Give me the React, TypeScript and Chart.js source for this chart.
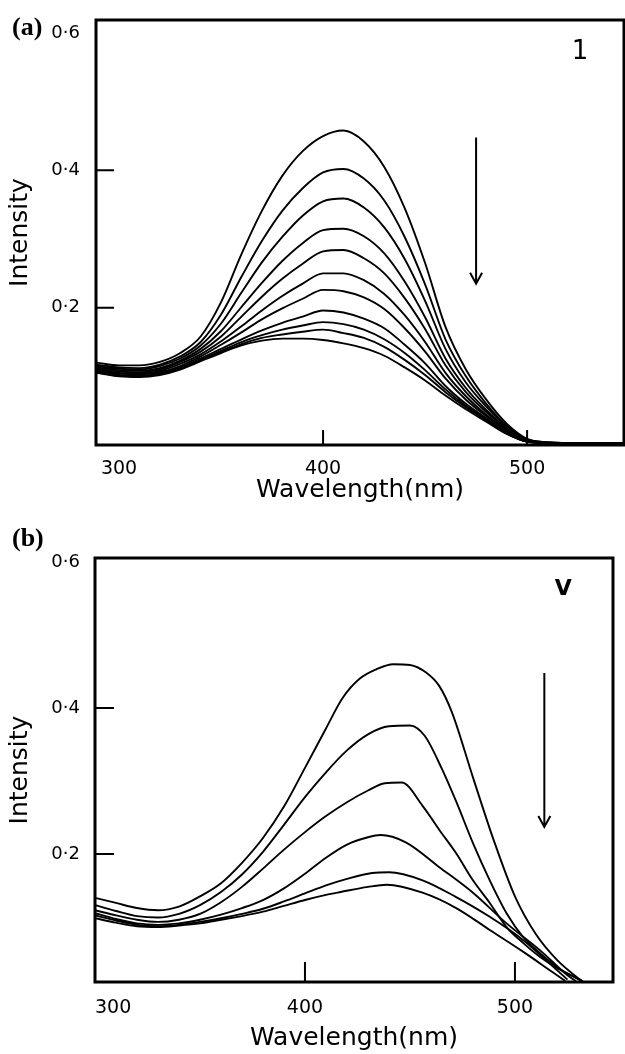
import React, { useEffect, useRef } from 'react';
import { Chart, registerables } from 'chart.js';

Chart.register(...registerables);

const FONT = '"DejaVu Sans", sans-serif';

// ---------- shared axis text ----------
const X_TITLE = 'Wavelength(nm)';
const Y_TITLE = 'Intensity';
const X_TICKS = [300, 400, 500];
const Y_TICKS = [0.2, 0.4, 0.6];

// ---------- panel (a): compound 1 ----------
const WL_A = [289, 300, 310, 320, 330, 340, 350, 360, 370, 380, 390, 400, 410, 420, 430, 440, 450, 460, 470, 480, 490, 500, 510, 520, 530, 540, 548];
const A1 = [0.120, 0.116, 0.116, 0.121, 0.134, 0.158, 0.208, 0.278, 0.341, 0.392, 0.428, 0.450, 0.458, 0.442, 0.405, 0.345, 0.265, 0.172, 0.110, 0.066, 0.031, 0.009, 0.004, 0.003, 0.003, 0.003, 0.003];
const A2 = [0.117, 0.113, 0.112, 0.117, 0.129, 0.150, 0.190, 0.245, 0.297, 0.341, 0.374, 0.397, 0.402, 0.388, 0.356, 0.303, 0.234, 0.154, 0.100, 0.060, 0.028, 0.008, 0.004, 0.003, 0.003, 0.003, 0.003];
const A3 = [0.115, 0.111, 0.110, 0.115, 0.126, 0.145, 0.177, 0.222, 0.266, 0.303, 0.334, 0.355, 0.359, 0.346, 0.317, 0.271, 0.210, 0.140, 0.091, 0.056, 0.026, 0.008, 0.003, 0.003, 0.002, 0.002, 0.002];
const A4 = [0.113, 0.109, 0.108, 0.112, 0.123, 0.140, 0.166, 0.201, 0.236, 0.268, 0.294, 0.313, 0.315, 0.304, 0.279, 0.238, 0.186, 0.126, 0.083, 0.051, 0.024, 0.007, 0.003, 0.002, 0.002, 0.002, 0.002];
const A5 = [0.112, 0.107, 0.106, 0.110, 0.121, 0.136, 0.158, 0.187, 0.216, 0.242, 0.264, 0.282, 0.284, 0.272, 0.250, 0.214, 0.169, 0.116, 0.077, 0.048, 0.023, 0.007, 0.003, 0.002, 0.002, 0.002, 0.002];
const A6 = [0.110, 0.105, 0.104, 0.108, 0.118, 0.132, 0.151, 0.173, 0.196, 0.217, 0.235, 0.250, 0.250, 0.240, 0.220, 0.189, 0.150, 0.105, 0.071, 0.044, 0.021, 0.006, 0.003, 0.002, 0.002, 0.002, 0.002];
const A7 = [0.109, 0.104, 0.103, 0.106, 0.115, 0.129, 0.146, 0.164, 0.183, 0.199, 0.213, 0.226, 0.224, 0.215, 0.198, 0.170, 0.136, 0.097, 0.066, 0.042, 0.020, 0.005, 0.003, 0.002, 0.002, 0.002, 0.002];
const A8 = [0.107, 0.102, 0.101, 0.104, 0.113, 0.126, 0.140, 0.154, 0.167, 0.178, 0.187, 0.196, 0.193, 0.184, 0.170, 0.146, 0.119, 0.086, 0.060, 0.039, 0.018, 0.005, 0.003, 0.002, 0.002, 0.002, 0.002];
const A9 = [0.106, 0.101, 0.100, 0.104, 0.112, 0.124, 0.137, 0.150, 0.160, 0.168, 0.174, 0.179, 0.176, 0.168, 0.154, 0.134, 0.109, 0.081, 0.057, 0.037, 0.017, 0.005, 0.003, 0.002, 0.002, 0.002, 0.002];
const A10 = [0.106, 0.101, 0.100, 0.103, 0.111, 0.123, 0.135, 0.147, 0.156, 0.161, 0.165, 0.168, 0.163, 0.156, 0.143, 0.124, 0.102, 0.077, 0.055, 0.036, 0.017, 0.005, 0.003, 0.002, 0.002, 0.002, 0.002];
const A11 = [0.105, 0.100, 0.099, 0.102, 0.110, 0.122, 0.134, 0.145, 0.152, 0.155, 0.155, 0.153, 0.148, 0.141, 0.130, 0.113, 0.094, 0.072, 0.052, 0.034, 0.016, 0.005, 0.003, 0.002, 0.002, 0.002, 0.002];
const SERIES_A = [A1, A2, A3, A4, A5, A6, A7, A8, A9, A10, A11];
const ARROW_A = [475, 0.448, 0.235]; // x (nm), y start, y end
const TAG_A = '1';
const TAG_A_POS = [526, 0.572];

// ---------- panel (b): compound V ----------
const B1_X = [300, 310, 320, 330, 340, 350, 360, 370, 380, 390, 400, 410, 418, 426, 434, 442, 450, 458, 464, 470, 480, 490, 500, 510, 520, 531, 533];
const B1_Y = [0.140, 0.133, 0.126, 0.123, 0.128, 0.142, 0.160, 0.188, 0.222, 0.265, 0.318, 0.372, 0.414, 0.440, 0.453, 0.460, 0.459, 0.448, 0.430, 0.394, 0.305, 0.218, 0.142, 0.090, 0.055, 0.028, 0.024];
const B2_X = [300, 310, 320, 330, 340, 350, 360, 370, 380, 390, 400, 410, 420, 430, 440, 450, 457, 465, 472, 480, 488, 496, 504, 512, 520, 528, 532];
const B2_Y = [0.130, 0.122, 0.115, 0.113, 0.118, 0.130, 0.148, 0.172, 0.203, 0.240, 0.278, 0.312, 0.342, 0.364, 0.375, 0.376, 0.362, 0.318, 0.272, 0.215, 0.164, 0.119, 0.086, 0.064, 0.045, 0.032, 0.026];
const B3_X = [300, 310, 320, 330, 340, 350, 360, 370, 380, 390, 400, 410, 420, 430, 438, 446, 456, 464, 472, 480, 488, 496, 504, 512, 520, 528, 532];
const B3_Y = [0.123, 0.116, 0.110, 0.107, 0.110, 0.118, 0.134, 0.155, 0.180, 0.206, 0.230, 0.252, 0.271, 0.287, 0.297, 0.298, 0.266, 0.233, 0.201, 0.164, 0.133, 0.100, 0.078, 0.059, 0.044, 0.032, 0.026];
const B4_X = [300, 310, 320, 330, 340, 350, 360, 370, 380, 390, 400, 410, 420, 430, 436, 448, 464, 480, 496, 512, 525, 529];
const B4_Y = [0.119, 0.111, 0.105, 0.103, 0.105, 0.110, 0.117, 0.126, 0.137, 0.153, 0.173, 0.195, 0.213, 0.223, 0.226, 0.216, 0.182, 0.147, 0.105, 0.068, 0.034, 0.026];
const B5_X = [300, 310, 320, 330, 340, 350, 360, 370, 380, 390, 400, 410, 420, 432, 440, 456, 472, 488, 504, 520, 525];
const B5_Y = [0.116, 0.109, 0.103, 0.101, 0.103, 0.107, 0.112, 0.118, 0.125, 0.135, 0.146, 0.157, 0.166, 0.174, 0.175, 0.164, 0.141, 0.114, 0.082, 0.041, 0.028];
const B6_X = [300, 310, 320, 330, 340, 350, 360, 370, 380, 390, 400, 410, 417, 430, 439, 456, 472, 488, 504, 518, 524];
const B6_Y = [0.112, 0.106, 0.101, 0.100, 0.102, 0.105, 0.110, 0.115, 0.121, 0.129, 0.137, 0.144, 0.148, 0.155, 0.158, 0.147, 0.126, 0.096, 0.066, 0.038, 0.026];
const SERIES_B = [[B1_X, B1_Y], [B2_X, B2_Y], [B3_X, B3_Y], [B4_X, B4_Y], [B5_X, B5_Y], [B6_X, B6_Y]];
const ARROW_B = [514, 0.448, 0.237];
const TAG_B = 'V';
const TAG_B_POS = [523, 0.562];

type PanelCfg = {
  height: number;
  padding: { top: number; right: number; left: number; bottom: number };
  xMin: number; xMax: number; yMin: number; yMax: number;
  yAxisW: number; xAxisH: number;
  xTickPad: number; yTickPad: number; xTitlePad: number;
  xAlign: 'center' | 'inner';
  xMarks: number[]; yMarks: number[]; xMarkLen: number; yMarkLen: number;
  arrow: number[]; tag: string; tagPos: number[]; tagFont: string;
  series: { x: number[]; y: number[] }[];
};

function decor(p: PanelCfg) {
  return {
    id: 'decor',
    afterDatasetsDraw(chart: any) {
      const { ctx, chartArea: a } = chart;
      const xs = chart.scales.x;
      const ys = chart.scales.y;
      ctx.save();
      ctx.strokeStyle = '#000';
      ctx.fillStyle = '#000';
      ctx.lineWidth = 3;
      ctx.lineJoin = 'miter';
      ctx.strokeRect(a.left, a.top, a.right - a.left, a.bottom - a.top);
      ctx.lineWidth = 2;
      ctx.beginPath();
      p.xMarks.forEach((v) => {
        const px = xs.getPixelForValue(v);
        ctx.moveTo(px, a.bottom);
        ctx.lineTo(px, a.bottom - p.xMarkLen);
      });
      p.yMarks.forEach((v) => {
        const py = ys.getPixelForValue(v);
        ctx.moveTo(a.left, py);
        ctx.lineTo(a.left + p.yMarkLen, py);
      });
      ctx.stroke();
      const ax = xs.getPixelForValue(p.arrow[0]);
      const y1 = ys.getPixelForValue(p.arrow[1]);
      const y2 = ys.getPixelForValue(p.arrow[2]);
      ctx.beginPath();
      ctx.moveTo(ax, y1);
      ctx.lineTo(ax, y2);
      ctx.moveTo(ax - 6, y2 - 11);
      ctx.lineTo(ax, y2);
      ctx.lineTo(ax + 6, y2 - 11);
      ctx.stroke();
      ctx.font = p.tagFont;
      ctx.textAlign = 'center';
      ctx.textBaseline = 'middle';
      ctx.fillText(p.tag, xs.getPixelForValue(p.tagPos[0]), ys.getPixelForValue(p.tagPos[1]));
      ctx.restore();
    },
  };
}

function Panel({ cfg }: { cfg: PanelCfg }) {
  const ref = useRef<HTMLCanvasElement>(null);
  useEffect(() => {
    document.body.style.margin = '0';
    const p = cfg;
    const tickVals = p.xAlign === 'inner' ? [...X_TICKS, p.xMax] : X_TICKS;
    const chart = new Chart(ref.current as HTMLCanvasElement, {
      type: 'line',
      data: {
        datasets: p.series.map((s) => ({
          data: s.x.map((x, i) => ({ x, y: s.y[i] })),
          borderColor: '#000',
          borderWidth: 1.9,
          pointRadius: 0,
          fill: false,
          borderJoinStyle: 'round',
          cubicInterpolationMode: 'monotone',
        })),
      },
      options: {
        responsive: false,
        animation: false,
        events: [],
        layout: { padding: p.padding },
        plugins: { legend: { display: false }, tooltip: { enabled: false } },
        scales: {
          x: {
            type: 'linear',
            min: p.xMin,
            max: p.xMax,
            grid: { display: false, drawTicks: false },
            border: { display: false },
            ticks: {
              color: '#000',
              font: { family: FONT, size: 19 },
              padding: p.xTickPad,
              maxRotation: 0,
              minRotation: 0,
              autoSkip: false,
              align: p.xAlign,
              callback: (v: any) => (X_TICKS.includes(Number(v)) ? String(v) : ''),
            },
            afterBuildTicks: (s: any) => {
              s.ticks = tickVals.map((v) => ({ value: v }));
            },
            afterFit: (s: any) => {
              s.height = p.xAxisH;
              s.paddingLeft = 0;
              s.paddingRight = 0;
            },
            title: {
              display: true,
              text: X_TITLE,
              color: '#000',
              font: { family: FONT, size: 25 },
              padding: { top: 0, bottom: p.xTitlePad },
            },
          },
          y: {
            type: 'linear',
            min: p.yMin,
            max: p.yMax,
            grid: { display: false, drawTicks: false },
            border: { display: false },
            ticks: {
              color: '#000',
              font: { family: FONT, size: 18 },
              padding: p.yTickPad,
              autoSkip: false,
              callback: (v: any) => Number(v).toFixed(1).replace('.', '·'),
            },
            afterBuildTicks: (s: any) => {
              s.ticks = Y_TICKS.map((v) => ({ value: v }));
            },
            afterFit: (s: any) => {
              s.width = p.yAxisW;
              s.paddingTop = 0;
              s.paddingBottom = 0;
            },
            title: {
              display: true,
              text: Y_TITLE,
              color: '#000',
              font: { family: FONT, size: 25 },
              padding: { top: 5, bottom: 0 },
            },
          },
        },
      } as any,
      plugins: [decor(p)],
    });
    return () => chart.destroy();
  }, [cfg]);
  return <canvas ref={ref} width={625} height={cfg.height} style={{ display: 'block' }} />;
}

const CFG_A: PanelCfg = {
  height: 505,
  padding: { top: 20, right: 1, left: 0, bottom: 0 },
  xMin: 288.7, xMax: 547.5, yMin: 0, yMax: 0.619,
  yAxisW: 96, xAxisH: 60,
  xTickPad: 13, yTickPad: 16, xTitlePad: 0,
  xAlign: 'center',
  xMarks: [400, 500], yMarks: [0.2, 0.4], xMarkLen: 15, yMarkLen: 18,
  arrow: ARROW_A, tag: TAG_A, tagPos: TAG_A_POS, tagFont: `26px ${FONT}`,
  series: SERIES_A.map((y) => ({ x: WL_A, y })),
};

const CFG_B: PanelCfg = {
  height: 549,
  padding: { top: 53, right: 12, left: 0, bottom: 0 },
  xMin: 300, xMax: 546.7, yMin: 0.0247, yMax: 0.6055,
  yAxisW: 95, xAxisH: 72,
  xTickPad: 15, yTickPad: 15, xTitlePad: 1,
  xAlign: 'inner',
  xMarks: [400, 500], yMarks: [0.2, 0.4], xMarkLen: 20, yMarkLen: 19,
  arrow: ARROW_B, tag: TAG_B, tagPos: TAG_B_POS, tagFont: `bold 22px ${FONT}`,
  series: SERIES_B.map(([x, y]) => ({ x, y })),
};

const tagStyle: React.CSSProperties = {
  position: 'absolute',
  left: 12,
  fontFamily: '"Liberation Serif", serif',
  fontWeight: 'bold',
  fontSize: 26,
  lineHeight: '26px',
  color: '#000',
};

export default function App() {
  return (
    <div style={{ position: 'absolute', left: 0, top: 0, width: 625, height: 1054, background: '#fff', overflow: 'hidden' }}>
      <div style={{ position: 'absolute', left: 0, top: 0 }}>
        <Panel cfg={CFG_A} />
      </div>
      <div style={{ position: 'absolute', left: 0, top: 505 }}>
        <Panel cfg={CFG_B} />
      </div>
      <span style={{ ...tagStyle, top: 14 }}>(a)</span>
      <span style={{ ...tagStyle, top: 525 }}>(b)</span>
    </div>
  );
}
